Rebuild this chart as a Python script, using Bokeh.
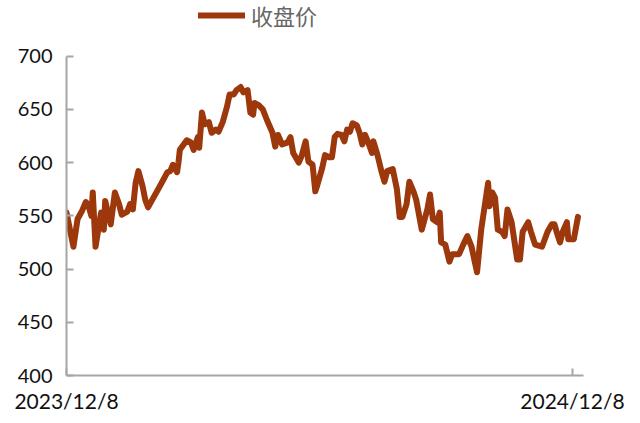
import pandas as pd
from bokeh.plotting import figure
from bokeh.models import Range1d, FixedTicker, CustomJSTickFormatter, Legend, LegendItem, ColumnDataSource
from bokeh.embed import file_html
from bokeh.resources import INLINE

start_date = "2023-12-08"
end_date = "2024-12-16"
tick_dates = ["2023-12-08", "2024-12-08"]

day_offsets = [0, 5, 8, 11, 14, 16, 18, 19, 21, 25, 27, 28, 32, 35, 38, 40, 44, 46, 48, 50,
               52, 55, 57, 59, 62, 68, 73, 75, 77, 80, 81, 82, 87, 90, 92, 95, 96, 98, 100, 103,
               105, 108, 110, 113, 116, 118, 121, 123, 126, 128, 131, 133, 135, 136, 139, 142, 145, 149, 151, 153,
               156, 160, 162, 164, 168, 170, 173, 175, 178, 180, 181, 185, 187, 190, 192, 194, 196, 199, 201, 203,
               205, 207, 210, 212, 214, 216, 218, 221, 222, 225, 228, 230, 232, 236, 239, 241, 243, 246, 248, 251,
               253, 257, 261, 263, 265, 268, 270, 271, 274, 277, 279, 284, 287, 290, 293, 297, 300, 305, 306, 308,
               310, 312, 315, 317, 319, 322, 326, 328, 330, 334, 336, 339, 344, 348, 351, 353, 355, 357, 359, 362,
               363, 367, 370]
close_price = [553, 521, 547, 554, 563, 559, 550, 572, 521, 553, 537, 564, 542, 572, 561, 551, 554, 561, 556, 581,
               592, 578, 565, 558, 565, 579, 591, 592, 598, 591, 600, 612, 621, 619, 612, 624, 614, 647, 636, 638,
               628, 631, 629, 638, 652, 664, 664, 668, 671, 666, 668, 647, 645, 656, 654, 650, 640, 628, 615, 626,
               617, 619, 624, 609, 600, 606, 620, 601, 598, 573, 577, 595, 607, 605, 605, 624, 627, 626, 620, 631,
               629, 637, 635, 628, 617, 626, 620, 609, 620, 607, 591, 582, 592, 594, 575, 549, 549, 561, 582, 573,
               565, 537, 556, 570, 547, 544, 553, 525, 523, 507, 514, 514, 523, 531, 521, 497, 537, 581, 559, 572,
               567, 537, 535, 531, 556, 544, 509, 509, 535, 544, 535, 523, 521, 535, 542, 542, 533, 525, 535, 544,
               528, 528, 549]
y_ticks = [400, 450, 500, 550, 600, 650, 700]
series_name = "收盘价"

dates = pd.Timestamp(start_date) + pd.to_timedelta(day_offsets, unit="D")
src = ColumnDataSource(dict(date=dates, close=close_price))

line_color = "#9C380B"
axis_color = "#A6A6A6"

# frame extends to the top of the figure so the legend can sit above the 700 line
p = figure(width=632, height=415, x_axis_type="datetime",
           x_range=Range1d(pd.Timestamp(start_date), pd.Timestamp(end_date)),
           y_range=Range1d(400, 752.3),
           output_backend="svg", toolbar_location=None,
           min_border_left=66, min_border_right=49, min_border_top=0, min_border_bottom=38)
p.outline_line_color = None
p.grid.visible = False
p.background_fill_color = "white"

r = p.line("date", "close", source=src, line_color=line_color, line_width=6,
           line_join="round", line_cap="round")

p.xaxis.ticker = FixedTicker(ticks=[pd.Timestamp(d).value / 1e6 for d in tick_dates])
p.xaxis.formatter = CustomJSTickFormatter(code="""
const d = new Date(tick);
return d.getUTCFullYear() + "/" + (d.getUTCMonth() + 1) + "/" + d.getUTCDate();
""")
p.yaxis.ticker = FixedTicker(ticks=y_ticks)
p.yaxis.bounds = (400, 700)

for ax in [p.xaxis[0], p.yaxis[0]]:
    ax.axis_line_color = axis_color
    ax.axis_line_width = 2
    ax.major_tick_line_color = axis_color
    ax.major_tick_line_width = 2
    ax.major_tick_in = 7
    ax.major_tick_out = 0
    ax.minor_tick_line_color = None
    ax.major_label_text_font = "Lato"
    ax.major_label_text_font_size = "20px"
    ax.major_label_text_color = "#111111"
p.xaxis.major_label_text_font_size = "21px"
p.yaxis.major_label_standoff = 14
p.xaxis.major_label_standoff = 12

legend = Legend(items=[LegendItem(label=series_name, renderers=[r])],
                orientation="horizontal", location=(132, 344),
                label_text_font="Noto Sans CJK SC", label_text_font_size="22px",
                label_text_color="#666666", glyph_width=47, glyph_height=24,
                border_line_color=None, background_fill_alpha=0, padding=0, margin=0,
                label_standoff=6)
p.add_layout(legend, "center")

open("out.html", "w").write(file_html(p, INLINE))
